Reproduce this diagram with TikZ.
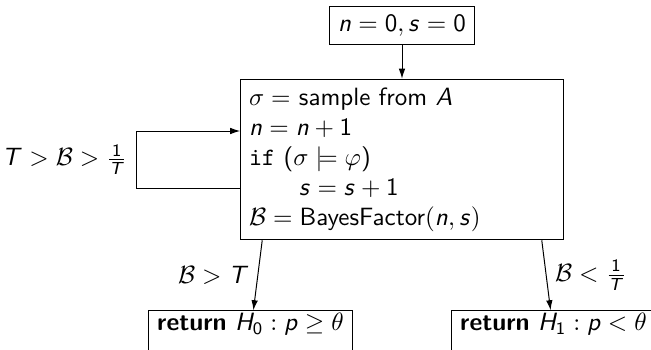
\documentclass[tikz,border=0pt]{standalone}
\usepackage{amsmath,amssymb}
\usepackage{tikz}
\usetikzlibrary{arrows.meta,positioning}
\renewcommand{\familydefault}{\sfdefault}
% sans letters and digits in math
\DeclareSymbolFont{sfletters}{OT1}{cmss}{m}{sl}
\DeclareSymbolFont{sfdigits}{OT1}{cmss}{m}{n}
\newcommand{\sfsym}[2]{\DeclareMathSymbol{#1}{\mathalpha}{#2}{`#1}}
\sfsym{n}{sfletters}\sfsym{s}{sfletters}\sfsym{p}{sfletters}
\sfsym{A}{sfletters}\sfsym{T}{sfletters}\sfsym{H}{sfletters}
\sfsym{0}{sfdigits}\sfsym{1}{sfdigits}
\tikzset{
  nbox/.style={draw, inner sep=3.33pt},
  nret/.style={nbox, inner ysep=1pt, text depth=9pt},
  ar/.style={-{Latex[length=4pt,width=2.6pt]}},
}

\begin{document}
\begin{tikzpicture}
  \useasboundingbox (0,0) rectangle (260.4pt,-139.6pt);
  \node[nbox, text width=4.3cm, align=left] (loop) at (160.8pt,-63.8pt)
    {$\sigma =$ sample from $A$\\
     $n = n + 1$\\
     \texttt{if} ($\sigma \models \varphi$)\\
     \qquad$s = s + 1$\\
     $\mathcal{B} = \text{BayesFactor}(n, s)$};
  \node[nbox, above=13.6pt of loop] (init) {$n = 0, s = 0$};
  \node[nret, below=28pt of loop, xshift=-60.6pt] (h0) {\textbf{return} $H_0 : p \geq \theta$};
  \node[nret, below=28pt of loop, xshift=60.6pt] (h1) {\textbf{return} $H_1 : p < \theta$};
  \draw[ar] (init) -- (loop);
  % loop back while undecided
  \draw[ar] ([yshift=-11.4pt]loop.west) -- ++(-41.6pt,0)
    |- node[pos=0.25, left] {$T > \mathcal{B} > \frac{1}{T}$} ([yshift=11.4pt]loop.west);
  \draw[ar] ([xshift=8.8pt]loop.south west) -- node[left] {$\mathcal{B} > T$} (h0);
  \draw[ar] ([xshift=-8.8pt]loop.south east) -- node[right] {$\mathcal{B} < \frac{1}{T}$} (h1);
\end{tikzpicture}
\end{document}
